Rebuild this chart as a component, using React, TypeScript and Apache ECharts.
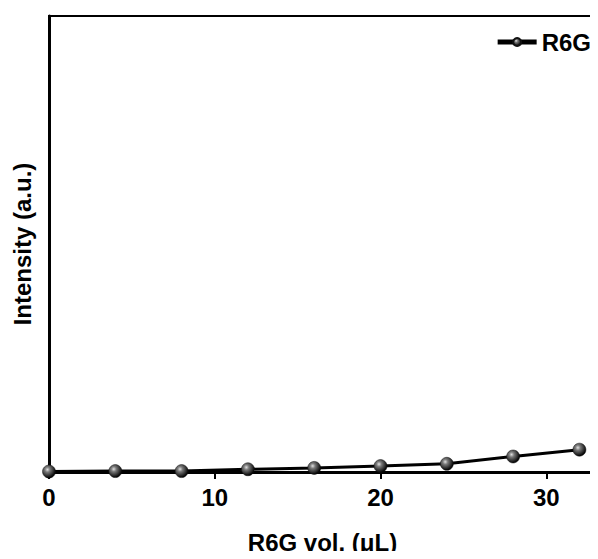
import React, { useEffect, useRef } from "react";
import * as echarts from "echarts";

const xValues = [0, 4, 8, 12, 16, 20, 24, 28, 32];
const intensity = [0.1, 0.2, 0.2, 0.6, 0.9, 1.3, 1.8, 3.4, 4.9];
const xTicks = [0, 10, 20, 30];
const seriesName = "R6G";

export default function App() {
  const ref = useRef<HTMLDivElement>(null);
  useEffect(() => {
    if (!ref.current) return;
    const chart = echarts.init(ref.current, null, { renderer: "svg" });
    const font = "'Liberation Sans', Arial, sans-serif";
    const sphere = new echarts.graphic.RadialGradient(0.38, 0.35, 0.65, [
      { offset: 0, color: "#e0e0e0" },
      { offset: 0.3, color: "#7a7a7a" },
      { offset: 1, color: "#000000" },
    ]);
    chart.setOption({
      animation: false,
      backgroundColor: "#ffffff",
      grid: {
        left: 49,
        right: 2,
        top: 16,
        bottom: 87,
        show: true,
        borderColor: "#000",
        borderWidth: 2,
        backgroundColor: "transparent",
      },
      legend: {
        right: 2,
        top: 25,
        itemWidth: 39,
        itemHeight: 10,
        itemGap: 4,
        lineStyle: { width: 5, color: "#000" },
        textStyle: { fontFamily: font, fontWeight: "bold", fontSize: 24, color: "#000" },
        data: [{ name: seriesName }],
      },
      xAxis: {
        type: "value",
        min: 0,
        max: 33,
        interval: 10,
        splitLine: { show: false },
        axisLine: { show: true, lineStyle: { color: "#000", width: 3 } },
        axisTick: {
          show: true,
          inside: false,
          length: 7,
          lineStyle: { color: "#000", width: 2 },
          customValues: xTicks,
        },
        axisLabel: {
          customValues: xTicks,
          fontFamily: font,
          fontWeight: "bold",
          fontSize: 24,
          color: "#000",
          margin: 13,
        },
        name: "R6G vol. (μL)",
        nameLocation: "middle",
        nameGap: 58,
        nameTextStyle: { fontFamily: font, fontWeight: "bold", fontSize: 24, color: "#000" },
      },
      yAxis: {
        type: "value",
        min: 0,
        max: 100,
        splitLine: { show: false },
        axisLine: { show: true, lineStyle: { color: "#000", width: 3 } },
        axisTick: { show: false },
        axisLabel: { show: false },
        name: "Intensity (a.u.)",
        nameLocation: "middle",
        nameGap: 15,
        nameTextStyle: { fontFamily: font, fontWeight: "bold", fontSize: 24, color: "#000" },
      },
      series: [
        {
          name: seriesName,
          type: "line",
          data: xValues.map((x, i) => [x, intensity[i]]),
          symbol: "circle",
          symbolSize: 13,
          showAllSymbol: true,
          lineStyle: { color: "#000", width: 3 },
          itemStyle: { color: sphere, borderColor: "#111", borderWidth: 0.5 },
          z: 1,
        },
      ],
    });
    return () => chart.dispose();
  }, []);
  return <div ref={ref} style={{ width: 598, height: 559, margin: -8 }} />;
}
